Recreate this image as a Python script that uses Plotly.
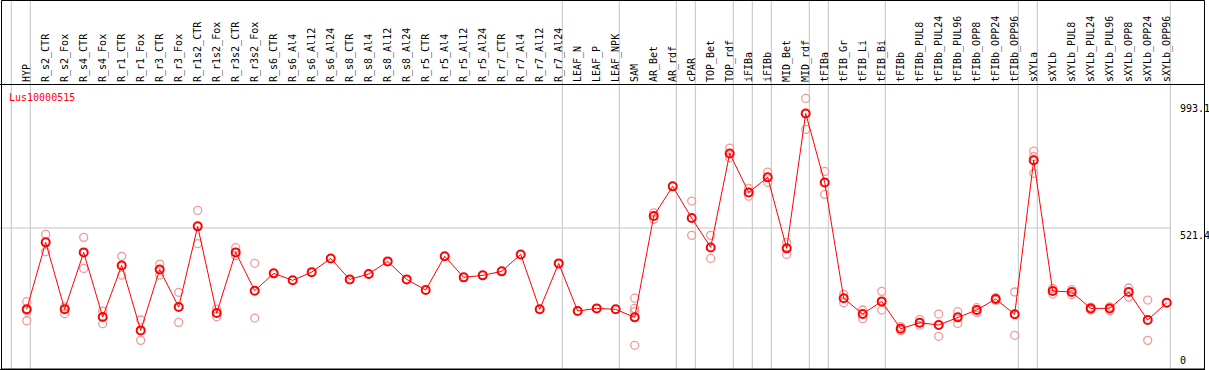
import plotly.graph_objects as go

categories = ["HYP", "R_s2_CTR", "R_s2_Fox", "R_s4_CTR", "R_s4_Fox", "R_r1_CTR", "R_r1_Fox",
              "R_r3_CTR", "R_r3_Fox", "R_r1s2_CTR", "R_r1s2_Fox", "R_r3s2_CTR", "R_r3s2_Fox",
              "R_s6_CTR", "R_s6_Al4", "R_s6_Al12", "R_s6_Al24", "R_s8_CTR", "R_s8_Al4", "R_s8_Al12",
              "R_s8_Al24", "R_r5_CTR", "R_r5_Al4", "R_r5_Al12", "R_r5_Al24", "R_r7_CTR", "R_r7_Al4",
              "R_r7_Al12", "R_r7_Al24", "LEAF_N", "LEAF_P", "LEAF_NPK", "SAM", "AR_Bet", "AR_rdf",
              "cPAR", "TOP_Bet", "TOP_rdf", "iFIBa", "iFIBb", "MID_Bet", "MID_rdf", "tFIBa",
              "tFIB_Gr", "tFIB_Li", "tFIB_Bi", "tFIBb", "tFIBb_PUL8", "tFIBb_PUL24", "tFIBb_PUL96",
              "tFIBb_OPP8", "tFIBb_OPP24", "tFIBb_OPP96", "sXYLa", "sXYLb", "sXYLb_PUL8",
              "sXYLb_PUL24", "sXYLb_PUL96", "sXYLb_OPP8", "sXYLb_OPP24", "sXYLb_OPP96"]

means = [218.5, 468, 218.5, 430.6, 190, 382, 140, 367, 227, 527.5, 204.8, 430.6, 288,
         352.5, 326.5, 357, 408, 330, 350, 397, 330, 290.4, 416, 337.6, 345, 360, 423, 218.5, 389.6,
         212, 222, 218.5,
         188.6, 566, 676.5, 558.5, 449, 799, 654, 710, 445.6, 948,
         691, 259.5, 201, 248, 146, 168.7, 160, 188.6, 216, 257, 200,
         774, 286.7, 283, 222, 222, 283, 178.7, 243]

replicates = [[247, 213, 176], [497.6, 433], [228, 202], [486.5, 371], [212, 165], [416, 346],
              [178.7, 103], [387, 346], [282, 170], [587, 463], [219.6, 191], [448, 418], [390, 186],
              [], [], [], [], [], [], [], [], [], [], [], [], [], [], [], [],
              [], [], [],
              [260, 222, 210, 84.5], [578, 553.6], [], [621.7, 494], [494, 408], [819, 783],
              [669, 640], [729.7, 691], [468, 423], [1004, 888.6],
              [732, 646.7], [275.5, 243], [216, 183.6], [285.5, 216], [154, 139], [181, 159],
              [201, 118], [209.6, 166], [224.5, 207], [262, 252], [283, 121.7],
              [808, 788, 725], [296.6, 275.5], [292, 273], [227, 216], [228, 213], [298, 264],
              [253, 103], []]

# indices after which a group separator is drawn (-1 = before first)
group_ends = [-1, 0, 28, 31, 34, 35, 37, 38, 39, 41, 42, 45, 52, 53, 60]

y_ticks = [0, 521.4, 993.1]
y_tick_text = ["0", "521.4", "993.1"]
gene = "Lus10000515"

W, H = 1209, 370
FONT = "DejaVu Sans Mono"
RED = "#ff0000"
PINK = "#ee9a9a"
GRAY = "#c4c4c4"

xs = list(range(len(categories)))
rx, ry = [], []
for i, reps in enumerate(replicates):
    for v in reps:
        rx.append(i)
        ry.append(v)

fig = go.Figure()
fig.add_trace(go.Scatter(x=rx, y=ry, mode="markers",
                         marker=dict(symbol="circle-open", size=8, color=PINK, line=dict(width=1.3, color=PINK)),
                         hoverinfo="skip", showlegend=False))
fig.add_trace(go.Scatter(x=xs, y=means, mode="lines+markers",
                         line=dict(color=RED, width=1),
                         marker=dict(symbol="circle-open", size=8, color=RED, line=dict(width=2, color=RED)),
                         showlegend=False))

px_per_cat = 19.0
first_px = 26.7
plot_w = 1205
x0 = -first_px / px_per_cat
x1 = x0 + plot_w / px_per_cat

top_px, bot_px = 85, 369
zero_px = 368
scale = (zero_px - 228.0) / 521.4
y_lo = -(bot_px - zero_px) / scale
y_hi = (zero_px - top_px) / scale

shapes = []
for b in group_ends:
    shapes.append(dict(type="line", xref="x", yref="paper", x0=b + 0.19, x1=b + 0.19, y0=0, y1=1,
                       line=dict(color=GRAY, width=1), layer="below"))
shapes.append(dict(type="line", xref="x", yref="y", x0=x0, x1=group_ends[-1] + 0.19,
                   y0=y_ticks[1], y1=y_ticks[1], line=dict(color=GRAY, width=1), layer="below"))
# outer frame
shapes.append(dict(type="rect", xref="paper", yref="paper", x0=1.5 / W, x1=1204.5 / W,
                   y0=1 - 369 / H, y1=1 - 0.5 / H, line=dict(color="black", width=1)))

annotations = []
for v, t in zip(y_ticks, y_tick_text):
    annotations.append(dict(xref="paper", yref="y", x=1178 / W, y=v, text=t, showarrow=False,
                            xanchor="left", yanchor="bottom" if v == 0 else "top",
                            font=dict(family=FONT, size=10, color="black")))

fig.update_layout(
    template="none",
    width=W, height=H, margin=dict(l=0, r=0, t=0, b=0, pad=0, autoexpand=False),
    paper_bgcolor="white", plot_bgcolor="white",
    showlegend=False,
    title=dict(text=gene, x=9 / W, xanchor="left", y=1 - 97.5 / H, yanchor="middle",
               xref="paper", yref="paper", font=dict(family=FONT, size=10, color=RED)),
    xaxis=dict(domain=[0, plot_w / W], range=[x0, x1], side="top", tickmode="array",
               tickvals=xs, ticktext=categories, tickangle=-90, ticks="", automargin=False,
               tickfont=dict(family=FONT, size=10, color="black"),
               showgrid=False, zeroline=False, showline=True, mirror=True,
               linecolor="black", linewidth=1, fixedrange=True),
    yaxis=dict(domain=[1 - bot_px / H, 1 - top_px / H], range=[y_lo, y_hi], visible=False,
               automargin=False, showgrid=False, zeroline=False, fixedrange=True),
    shapes=shapes, annotations=annotations,
)

fig.write_html("out.html", config={"displayModeBar": False},
               post_script="document.body.style.margin='0';document.body.style.padding='0';")
